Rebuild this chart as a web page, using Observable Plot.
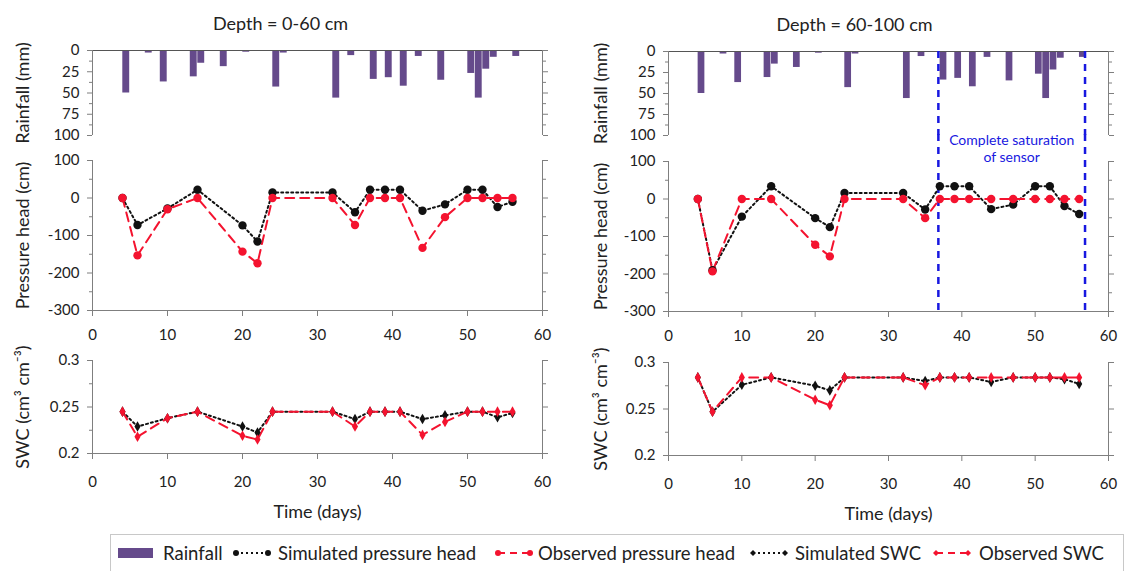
<!DOCTYPE html>
<html><head><meta charset="utf-8">
<script src="https://cdn.jsdelivr.net/npm/d3@7"></script>
<script src="https://cdn.jsdelivr.net/npm/@observablehq/plot@0.6"></script>
<style>
body{margin:0;background:#fff;}
#root{position:relative;width:1133px;height:571px;font-family:Lato,sans-serif;color:#222;overflow:hidden;background:#fff}
#root svg{position:absolute;overflow:visible}
#legend{position:absolute;left:110px;top:534px;width:1014px;height:44px;border:1px solid #c8c8c8;box-sizing:border-box;font-size:18.5px;color:#222;white-space:nowrap}
#legend .it{position:absolute;top:7px;height:22px;line-height:22px}
#legend .sw{position:absolute;top:11px}
</style></head><body><div id="root"></div>
<script>
// ---- data ----
const rainDays = [4,7,9,13,14,17,20,24,25,32,34,37,39,41,43,46,50,51,52,53,56];
const rainMm   = [50,3,37,31,15,19,2,43,3,56,6,34,32,42,7,35,27,56,22,8,7];
const obsDays  = [4,6,10,14,20,22,24,32,35,37,39,41,44,47,50,52,54,56];
const simPH_0_60   = [0,-72,-28,22,-73,-116,15,15,-38,22,22,22,-34,-17,22,22,-24,-10];
const obsPH_0_60   = [0,-153,-30,0,-143,-174,0,0,-72,0,0,0,-133,-51,0,0,0,0];
const simPH_60_100 = [0,-190,-47,34,-51,-75,16,16,-28,34,34,34,-27,-15,34,34,-19,-40];
const obsPH_60_100 = [0,-193,0,0,-122,-153,0,0,-51,0,0,0,0,0,0,0,0,0];
const simSWC_0_60   = [0.245,0.229,0.238,0.245,0.229,0.2225,0.245,0.245,0.237,0.245,0.245,0.245,0.237,0.241,0.245,0.245,0.239,0.2435];
const obsSWC_0_60   = [0.245,0.218,0.238,0.245,0.219,0.215,0.245,0.245,0.229,0.245,0.245,0.245,0.220,0.234,0.245,0.245,0.245,0.245];
const simSWC_60_100 = [0.284,0.247,0.276,0.284,0.275,0.270,0.284,0.284,0.280,0.284,0.284,0.284,0.279,0.284,0.284,0.284,0.282,0.277];
const obsSWC_60_100 = [0.284,0.247,0.284,0.284,0.260,0.254,0.284,0.284,0.2755,0.284,0.284,0.284,0.284,0.284,0.284,0.284,0.284,0.284];
const saturationDays = [36.8, 56.8];
const dayDomain = [0, 60];
const dayTicks = [0,10,20,30,40,50,60];
const rainDomain = [0, 100];
const rainTicks = [0,25,50,75,100];
const rainMinor = [12.5,37.5,62.5,87.5];
const phDomain = [-300, 100];
const phTicks = [-300,-200,-100,0,100];
const phMinor = [-250,-150,-50,50];
const swcDomain = [0.2, 0.3];
const swcTicks = [0.2,0.25,0.3];
const swcMinor = [0.225,0.275];
const titles = ["Depth = 0-60 cm", "Depth = 60-100 cm"];
const yLabels = ["Rainfall (mm)", "Pressure head (cm)", "SWC (cm\u00b3 cm\u207b\u00b3)"];
const xLabel = "Time (days)";
const satText = "Complete saturation\nof sensor";
const legendItems = ["Rainfall","Simulated pressure head","Observed pressure head","Simulated SWC","Observed SWC"];

// ---- style ----
const PURPLE = "#654a8b", RED = "#f4132f", BLACK = "#111", BLUE = "#1818e0", AX = "#7f7f7f", TXT = "#222";
const rainTable = rainDays.map((d,i)=>({day:d, mm:rainMm[i]}));
const tab = vals => obsDays.map((d,i)=>({day:d, v:vals[i]}));

const cols = [
  {left:0, w:566, ml:92, mr:24, rainTop:50, phTop:15, phBot:35, swcTop:15, swcBot:72, labDx:-69, titleDx:-37,
   ph:[simPH_0_60, obsPH_0_60], swc:[simSWC_0_60, obsSWC_0_60], sat:false},
  {left:566, w:567, ml:102, mr:25, rainTop:51, phTop:16, phBot:34, swcTop:17, swcBot:70, labDx:-67, titleDx:-34,
   ph:[simPH_60_100, obsPH_60_100], swc:[simSWC_60_100, obsSWC_60_100], sat:true}
];
const baseStyle = {background:"transparent", overflow:"visible", fontFamily:"Lato, sans-serif", fontSize:"15px", color:TXT};
const fmt = d => String(d);

function yAxes(ticks, minor, label, c) {
  return [
    Plot.axisY({ticks, anchor:"left", tickSize:5, tickPadding:8, stroke:AX, color:TXT, label:null, tickFormat:fmt}),
    Plot.axisY({ticks:minor, anchor:"left", tickSize:3, text:null, stroke:AX, label:null}),
    Plot.axisY({ticks, anchor:"right", tickSize:5, text:null, stroke:AX, label:null}),
    Plot.axisY({ticks:minor, anchor:"right", tickSize:3, text:null, stroke:AX, label:null}),
    Plot.text([label], {frameAnchor:"left", textAnchor:"middle", rotate:-90, dx:c.labDx, fontSize:18, fill:TXT, lineAnchor:"middle"})
  ];
}
function series(sim, obs, r, sym) {
  const S = tab(sim), O = tab(obs);
  return [
    Plot.line(S, {x:"day", y:"v", stroke:BLACK, strokeWidth:2, strokeDasharray:"2,3"}),
    Plot.line(O, {x:"day", y:"v", stroke:RED, strokeWidth:2, strokeDasharray:"9,6"}),
    Plot.dot(S, {x:"day", y:"v", fill:BLACK, r, symbol:sym}),
    Plot.dot(O, {x:"day", y:"v", fill:RED, r, symbol:sym})
  ];
}

const root = document.getElementById("root");
function place(svg, left, top) { svg.style.left = left+"px"; svg.style.top = top+"px"; root.appendChild(svg); }

cols.forEach((c, ci) => {
  const rain = Plot.plot({
    width:c.w, height:145, marginLeft:c.ml, marginRight:c.mr, marginTop:c.rainTop, marginBottom:10,
    x:{domain:dayDomain, axis:null}, y:{domain:rainDomain, reverse:true, axis:null}, style:baseStyle,
    marks:[
      Plot.rect(rainTable, {x1:"day", x2:d=>d.day+1, y1:0, y2:"mm", fill:PURPLE, insetLeft:0.3, insetRight:0.3}),
      Plot.ruleY([rainDomain[0]], {stroke:"#555"}),
      Plot.ruleX(dayDomain, {stroke:AX}),
      ...yAxes(rainTicks, rainMinor, yLabels[0], c),
      Plot.text([titles[ci]], {frameAnchor:"top", dx:c.titleDx, dy:-26, fontSize:18, fill:TXT, lineAnchor:"middle"}),
      ...(c.sat ? [Plot.ruleX(saturationDays, {stroke:BLUE, strokeWidth:2.5, strokeDasharray:"7,6"})] : [])
    ]
  });
  place(rain, c.left, 0);

  const ph = Plot.plot({
    width:c.w, height:200, marginLeft:c.ml, marginRight:c.mr, marginTop:c.phTop, marginBottom:c.phBot,
    x:{domain:dayDomain, axis:null}, y:{domain:phDomain, axis:null}, style:baseStyle,
    marks:[
      Plot.ruleX(dayDomain, {stroke:AX}),
      Plot.ruleY([phDomain[0]], {stroke:AX}),
      Plot.axisX({ticks:dayTicks, anchor:"bottom", tickSize:6, tickPadding:13, stroke:AX, color:TXT, label:null}),
      ...yAxes(phTicks, phMinor, yLabels[1], c),
      ...(c.sat ? [
        Plot.ruleX(saturationDays, {stroke:BLUE, strokeWidth:2.5, strokeDasharray:"7,6", insetTop:-27}),
        Plot.text([satText], {x:[d3.mean(saturationDays)], frameAnchor:"top", dy:-13, fill:BLUE, fontSize:14, lineAnchor:"middle", lineHeight:1.2})
      ] : []),
      ...series(c.ph[0], c.ph[1], 4.2, "circle")
    ]
  });
  place(ph, c.left, 145);

  const swc = Plot.plot({
    width:c.w, height:180, marginLeft:c.ml, marginRight:c.mr, marginTop:c.swcTop, marginBottom:c.swcBot,
    x:{domain:dayDomain, axis:null}, y:{domain:swcDomain, axis:null}, style:baseStyle,
    marks:[
      Plot.ruleX(dayDomain, {stroke:AX}),
      Plot.ruleY([swcDomain[0]], {stroke:AX}),
      Plot.axisX({ticks:dayTicks, anchor:"bottom", tickSize:6, tickPadding:17, stroke:AX, color:TXT, label:null}),
      ...yAxes(swcTicks, swcMinor, yLabels[2], c),
      Plot.text([xLabel], {frameAnchor:"bottom", dy:59, fontSize:18, fill:TXT, lineAnchor:"middle"}),
      ...series(c.swc[0], c.swc[1], 3.2, "diamond")
    ]
  });
  place(swc, c.left, 345);
});

// legend (positions relative to the legend box, which starts at x=110)
const legend = document.createElement("div");
legend.id = "legend";
const swX = [7, 120, 382, 637, 820];
const txX = [52, 167, 427, 684, 868];
function sw(kind) {
  const ns = "http://www.w3.org/2000/svg";
  const s = document.createElementNS(ns, "svg");
  s.setAttribute("class", "sw");
  s.setAttribute("width", kind==="rain"?36:42); s.setAttribute("height", 14);
  if (kind==="rain") {
    s.innerHTML = `<rect x="0" y="2" width="35" height="10" fill="${PURPLE}"/>`;
  } else {
    const col = kind.startsWith("sim") ? BLACK : RED;
    const dash = kind.startsWith("sim") ? "2,3" : "7,5";
    const mk = kind.endsWith("ph") ? `<circle cx="5" cy="7" r="3" fill="${col}"/><circle cx="37" cy="7" r="3" fill="${col}"/>`
      : `<path d="M5 4L8 7L5 10L2 7Z" fill="${col}"/><path d="M37 4L40 7L37 10L34 7Z" fill="${col}"/>`;
    s.innerHTML = `<line x1="5" y1="7" x2="37" y2="7" stroke="${col}" stroke-width="1.8" stroke-dasharray="${dash}"/>` + mk;
  }
  return s;
}
const kinds = ["rain","simph","obsph","simswc","obsswc"];
legendItems.forEach((t,i) => {
  const s = sw(kinds[i]); s.style.left = swX[i] + "px"; legend.appendChild(s);
  const sp = document.createElement("span"); sp.className = "it"; sp.textContent = t; sp.style.left = txX[i] + "px";
  legend.appendChild(sp);
});
root.appendChild(legend);
</script></body></html>
